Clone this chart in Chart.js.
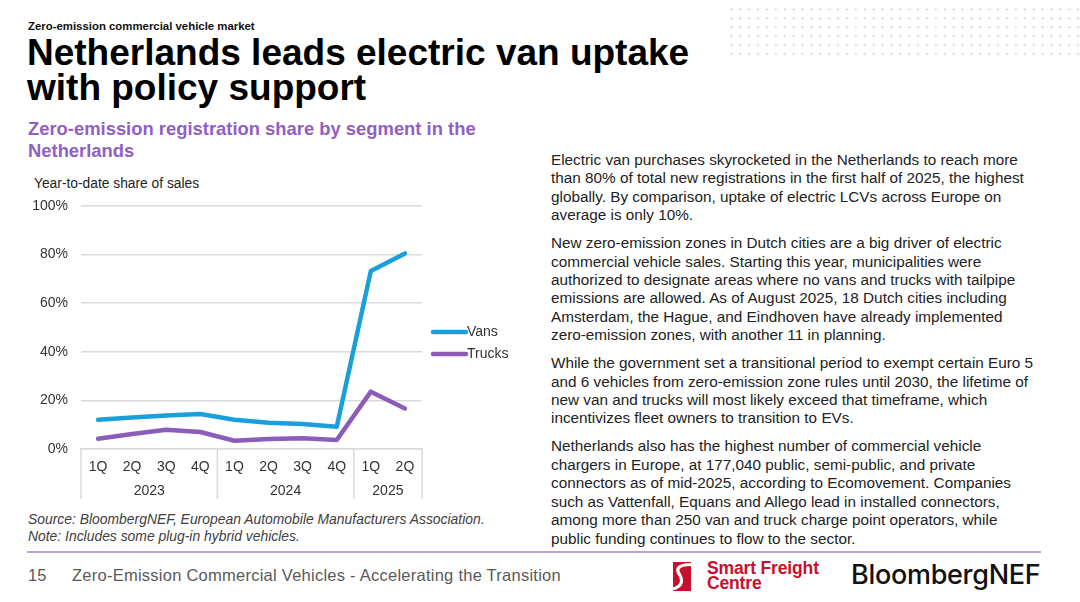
<!DOCTYPE html>
<html>
<head>
<meta charset="utf-8">
<script src="https://cdn.jsdelivr.net/npm/chart.js@4.4.1/dist/chart.umd.min.js"></script>
<style>
  html, body { margin: 0; padding: 0; background: #fff; }
  body { width: 1080px; height: 602px; position: relative; overflow: hidden;
         font-family: "Liberation Sans", Arial, sans-serif; color: #1a1a1a; }
  .abs { position: absolute; white-space: nowrap; }
  #kicker { left: 28px; top: 20px; font-size: 11.4px; line-height: 12px; font-weight: bold; color: #111; }
  #title { left: 27px; top: 35px; font-size: 37px; font-weight: bold; line-height: 35px; color: #000; }
  #subtitle { left: 28px; top: 118px; font-size: 18.4px; font-weight: bold; line-height: 21.7px; color: #9160c2; }
  #ylab { left: 34px; top: 176px; font-size: 13.8px; line-height: 16px; color: #222; }
  #chartBox { left: 20px; top: 191px; width: 500px; height: 320px; }
  #chartBox canvas { display: block; }
  #source { left: 28px; top: 511px; font-size: 13.9px; font-style: italic; line-height: 17px; color: #404040; }
  #body { left: 551px; top: 151px; font-size: 15.3px; line-height: 18.4px; color: #222; }
  #body p { margin: 0 0 9.6px 0; }
  #dots { left: 727px; top: 5px; width: 353px; height: 50px;
          background-image: radial-gradient(circle, #bdbdbd 0.8px, transparent 1.1px);
          background-size: 8.9px 8.9px; }
  #rule { left: 27px; top: 551px; width: 1014px; height: 2px; background: #b9a2d8; }
  #pageno { left: 28px; top: 565px; font-size: 16.5px; line-height: 20px; color: #595959; }
  #footer { left: 72px; top: 565px; font-size: 16.5px; line-height: 20px; color: #595959; letter-spacing: 0.25px; }
  #sfcText { left: 707px; top: 561px; font-size: 17.5px; font-weight: bold; line-height: 15px; color: #c8102e; letter-spacing: -0.15px; }
  #bnef { left: 851px; top: 558px; font-family: Inter, "Liberation Sans", sans-serif; font-size: 27px; font-weight: 500; color: #111; letter-spacing: -0.3px; }
</style>
</head>
<body>
<div class="abs" id="kicker">Zero-emission commercial vehicle market</div>
<div class="abs" id="title">Netherlands leads electric van uptake<br>with policy support</div>
<div class="abs" id="subtitle">Zero-emission registration share by segment in the<br>Netherlands</div>
<div class="abs" id="ylab">Year-to-date share of sales</div>
<div class="abs" id="dots"></div>

<div class="abs" id="chartBox"><canvas id="chart"></canvas></div>

<div class="abs" id="source">Source: BloombergNEF, European Automobile Manufacturers Association.<br>Note: Includes some plug-in hybrid vehicles.</div>

<div class="abs" id="body">
<p>Electric van purchases skyrocketed in the Netherlands to reach more<br>than 80% of total new registrations in the first half of 2025, the highest<br>globally. By comparison, uptake of electric LCVs across Europe on<br>average is only 10%.</p>
<p>New zero-emission zones in Dutch cities are a big driver of electric<br>commercial vehicle sales. Starting this year, municipalities were<br>authorized to designate areas where no vans and trucks with tailpipe<br>emissions are allowed. As of August 2025, 18 Dutch cities including<br>Amsterdam, the Hague, and Eindhoven have already implemented<br>zero-emission zones, with another 11 in planning.</p>
<p>While the government set a transitional period to exempt certain Euro 5<br>and 6 vehicles from zero-emission zone rules until 2030, the lifetime of<br>new van and trucks will most likely exceed that timeframe, which<br>incentivizes fleet owners to transition to EVs.</p>
<p>Netherlands also has the highest number of commercial vehicle<br>chargers in Europe, at 177,040 public, semi-public, and private<br>connectors as of mid-2025, according to Ecomovement. Companies<br>such as Vattenfall, Equans and Allego lead in installed connectors,<br>among more than 250 van and truck charge point operators, while<br>public funding continues to flow to the sector.</p>
</div>

<div class="abs" id="rule"></div>
<div class="abs" id="pageno">15</div>
<div class="abs" id="footer">Zero-Emission Commercial Vehicles - Accelerating the Transition</div>
<svg class="abs" style="left:673px;top:562px" width="18" height="29" viewBox="0 0 18 29">
  <rect x="0" y="0" width="18" height="29" fill="#c8102e"/>
  <path d="M18 2.5 C7 2.5 2 6 6.5 12.5 C10 18 9.5 24 0 27" stroke="#fff" stroke-width="3.2" fill="none"/>
</svg>
<div class="abs" id="sfcText">Smart Freight<br>Centre</div>
<div class="abs" id="bnef">BloombergNEF</div>

<script>
// Данные графика
const quarters = ['1Q', '2Q', '3Q', '4Q', '1Q', '2Q', '3Q', '4Q', '1Q', '2Q'];
const years = ['2023', '2024', '2025'];
const quartersPerYear = [4, 4, 2];
const vans = [12, 13, 13.8, 14.4, 12, 10.8, 10.3, 9.2, 73.3, 80.5];
const trucks = [4.2, 6.2, 7.9, 7, 3.4, 4.1, 4.4, 3.7, 23.6, 16.7];
const yTicks = [0, 20, 40, 60, 80, 100];

const gridColor = '#d9d9d9';
const textColor = '#333';
const tickFont = { size: 14, family: '"Liberation Sans", Arial, sans-serif' };

// Подписи годов и разделители групп под осью X
const groupAxis = {
  id: 'groupAxis',
  afterDraw(chart) {
    const x = chart.scales.x;
    const ctx = chart.ctx;
    const step = x.getPixelForValue(1) - x.getPixelForValue(0);
    const top = chart.chartArea.bottom;
    const bottom = top + 50;
    ctx.save();
    ctx.strokeStyle = gridColor;
    ctx.lineWidth = 1.5;
    let idx = 0;
    const edges = [x.getPixelForValue(0) - step / 2];
    quartersPerYear.forEach(n => {
      idx += n;
      edges.push(x.getPixelForValue(idx - 1) + step / 2);
    });
    edges.forEach(px => {
      ctx.beginPath();
      ctx.moveTo(px, top);
      ctx.lineTo(px, bottom);
      ctx.stroke();
    });
    ctx.fillStyle = textColor;
    ctx.font = '14px "Liberation Sans", Arial, sans-serif';
    ctx.textAlign = 'center';
    ctx.textBaseline = 'middle';
    years.forEach((y, i) => {
      ctx.fillText(y, (edges[i] + edges[i + 1]) / 2, top + 42);
    });
    ctx.restore();
  }
};

// Легенда справа от графика
const sideLegend = {
  id: 'sideLegend',
  afterDraw(chart) {
    const ctx = chart.ctx;
    const x0 = chart.chartArea.right + 11;
    ctx.save();
    ctx.font = '14px "Liberation Sans", Arial, sans-serif';
    ctx.textBaseline = 'middle';
    ctx.lineCap = 'round';
    chart.data.datasets.forEach((ds, i) => {
      const y = chart.chartArea.top + 126 + i * 22;
      ctx.strokeStyle = ds.borderColor;
      ctx.lineWidth = 4.5;
      ctx.beginPath();
      ctx.moveTo(x0, y);
      ctx.lineTo(x0 + 33, y);
      ctx.stroke();
      ctx.fillStyle = textColor;
      ctx.fillText(ds.label, x0 + 34, y);
    });
    ctx.restore();
  }
};

new Chart(document.getElementById('chart'), {
  type: 'line',
  data: {
    labels: quarters,
    datasets: [
      { label: 'Vans', data: vans, borderColor: '#1a9fdb', borderWidth: 4.5 },
      { label: 'Trucks', data: trucks, borderColor: '#8c5cb9', borderWidth: 4.5 }
    ]
  },
  options: {
    responsive: true,
    maintainAspectRatio: false,
    animation: false,
    elements: { point: { radius: 0 }, line: { tension: 0, borderJoinStyle: 'round', borderCapStyle: 'round' } },
    layout: { padding: { top: 15, right: 98, bottom: 12, left: 0 } },
    plugins: { legend: { display: false }, tooltip: { enabled: false } },
    scales: {
      x: {
        offset: true,
        grid: { display: false, tickLength: 0 },
        border: { display: true, color: gridColor, width: 1.5 },
        ticks: { color: textColor, font: tickFont, padding: 10, maxRotation: 0, autoSkip: false },
        afterFit(scale) { scale.height = 50; scale.paddingLeft = 0; scale.paddingRight = 0; }
      },
      y: {
        min: 0,
        max: 100,
        afterBuildTicks(scale) { scale.ticks = yTicks.map(v => ({ value: v })); },
        grid: { color: gridColor, lineWidth: 1.5, drawTicks: false },
        border: { display: false },
        ticks: { color: textColor, font: tickFont, padding: 13, callback: v => v + '%' },
        afterFit(scale) { scale.width = 61; scale.paddingTop = 0; scale.paddingBottom = 0; }
      }
    }
  },
  plugins: [groupAxis, sideLegend]
});
</script>
</body>
</html>
